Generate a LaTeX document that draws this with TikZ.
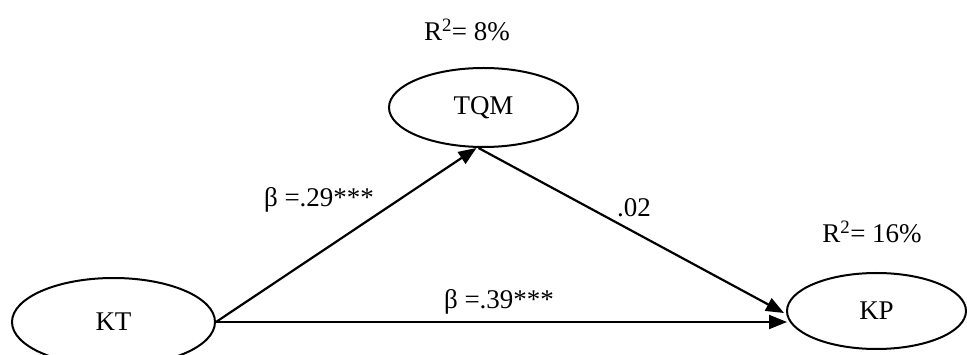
\documentclass[tikz,border=0pt]{standalone}
\usepackage{fontspec}
\setmainfont{Liberation Serif}
\usetikzlibrary{shapes.geometric,arrows.meta}
\tikzset{
  latent/.style={draw, ellipse, line width=2pt, inner sep=0pt, font=\fontsize{27}{30}\selectfont},
  lbl/.style={inner sep=0pt, font=\fontsize{27}{30}\selectfont},
  path/.style={line width=2.2pt, -{Triangle[length=18pt,width=14pt]}}
}
\begin{document}
\begin{tikzpicture}[x=1pt,y=-1pt]
\clip (0,0) rectangle (967,355);
\fill[white] (0,0) rectangle (967,355);
\node[latent, minimum width=189pt, minimum height=79pt] (TQM) at (483.5,107.5) {TQM};
\node[latent, minimum width=203pt, minimum height=88pt] (KT) at (113.5,322) {KT};
\node[latent, minimum width=179pt, minimum height=76pt] (KP) at (876.5,311) {KP};
\node[lbl] (r2a) at (467,30) {R\textsuperscript{2}= 8\%};
\node[lbl] (r2b) at (872,232) {R\textsuperscript{2}= 16\%};
\node[lbl] (b1) at (319,200) {β =.29***};
\node[lbl] (b2) at (499,302) {β =.39***};
\node[lbl] (b3) at (634,208) {.02};
\draw[path] (KT.east) -- ([xshift=-7pt]TQM.south);
\draw[path] (KT.east) -- ([xshift=1pt]KT.east -| KP.west);
\draw[path] ([xshift=-5pt]TQM.south) -- ([xshift=-2pt,yshift=-2pt]KP.west);
\end{tikzpicture}
\end{document}
